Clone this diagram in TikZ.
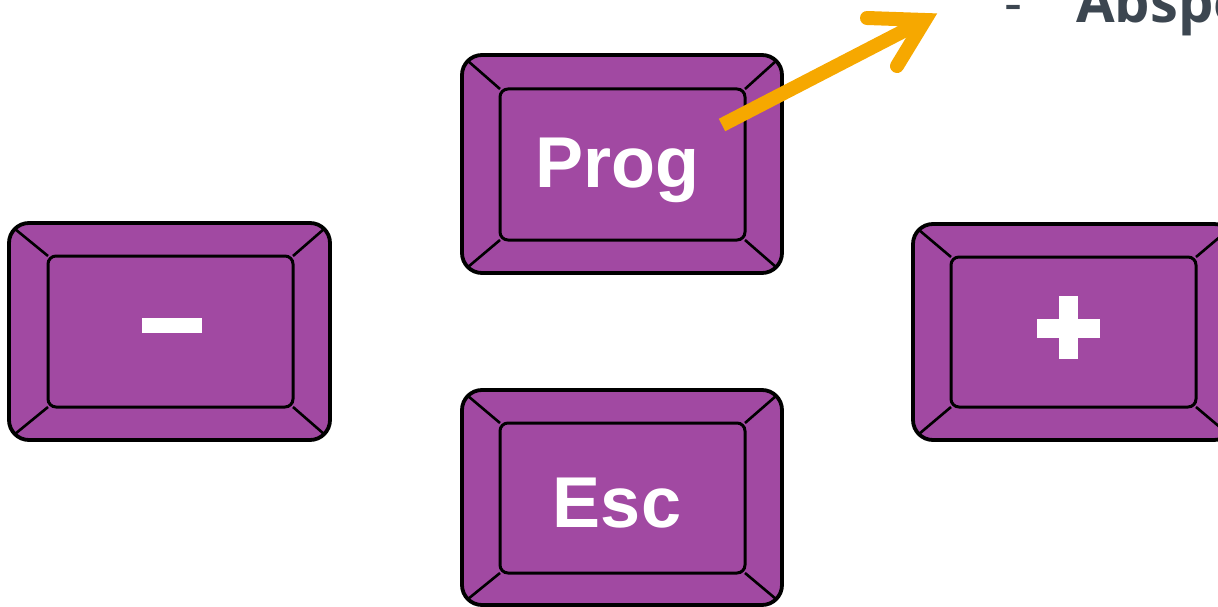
\documentclass[tikz,border=0pt]{standalone}
\usepackage{fontspec}
\newfontfamily\keyfont{Liberation Sans}
\newfontfamily\txtfont{Open Sans}
\definecolor{keypurple}{RGB}{161,73,162}
\definecolor{arroworange}{RGB}{246,168,0}
\definecolor{textgray}{RGB}{60,70,80}
\tikzset{
  outerkey/.style={fill=keypurple, draw=black, line width=3.8pt, rounded corners=20pt},
  innerkey/.style={draw=black, line width=3pt, rounded corners=8pt},
  bevel/.style={draw=black, line width=2.6pt},
  keylabel/.style={text=white, font=\keyfont\bfseries\fontsize{72}{72}\selectfont, anchor=base, inner sep=0pt},
  signbar/.style={fill=white, draw=none},
  pointer/.style={draw=arroworange, line width=14pt},
  bullettext/.style={text=textgray, font=\txtfont\bfseries\fontsize{56}{56}\selectfont, anchor=base west, inner sep=0pt},
  bulletmark/.style={text=textgray, font=\txtfont\fontsize{56}{56}\selectfont, anchor=base west, inner sep=0pt}
}
% #1 name, #2 x1, #3 y1, #4 x2, #5 y2 (outer); #6 ix1, #7 iy1, #8 ix2, #9 iy2 (inner)
\newcommand{\keycap}[9]{%
  \draw[outerkey] (#2,#3) rectangle (#4,#5);
  \draw[bevel] (#2+6,#3+6) -- (#6,#7);
  \draw[bevel] (#4-6,#3+6) -- (#8,#7);
  \draw[bevel] (#2+6,#5-6) -- (#6,#9);
  \draw[bevel] (#4-6,#5-6) -- (#8,#9);
  \draw[innerkey] (#6,#7) rectangle (#8,#9);
  \coordinate (#1) at ({(#6+#8)/2},{(#7+#9)/2});
}
\begin{document}
\begin{tikzpicture}[x=1pt,y=-1pt]
\useasboundingbox (0,0) rectangle (1218,607);
% keys
\keycap{progkey}{462}{55}{782}{273}{500}{89}{745}{240}
\keycap{esckey}{462}{390}{782}{605}{500}{423}{745}{573}
\keycap{minuskey}{9}{223}{330}{440}{48}{256}{293}{407}
\keycap{pluskey}{913}{224}{1234}{440}{951}{257}{1196}{407}
% labels
\node[keylabel] (prog) at (617,187) {Prog};
\node[keylabel] (esc) at (617,527) {Esc};
\fill[signbar] (142,318) rectangle (202,333);
\fill[signbar] (1037,319) rectangle (1100,338);
\fill[signbar] (1059,296) rectangle (1078,359);
% text top right
\node[bulletmark] (dash) at (1004,23) {-};
\node[bullettext] (absp) at (1076,23) {Abspe};
% arrow
\coordinate (tail) at (722,125);
\coordinate (tip) at (925,20);
\coordinate (barbA) at (867,18);
\coordinate (barbB) at (897,66);
\draw[pointer, line cap=butt] (tail) -- (tip);
\draw[pointer, line cap=round, line join=miter] (barbA) -- (tip) -- (barbB);
\end{tikzpicture}
\end{document}
